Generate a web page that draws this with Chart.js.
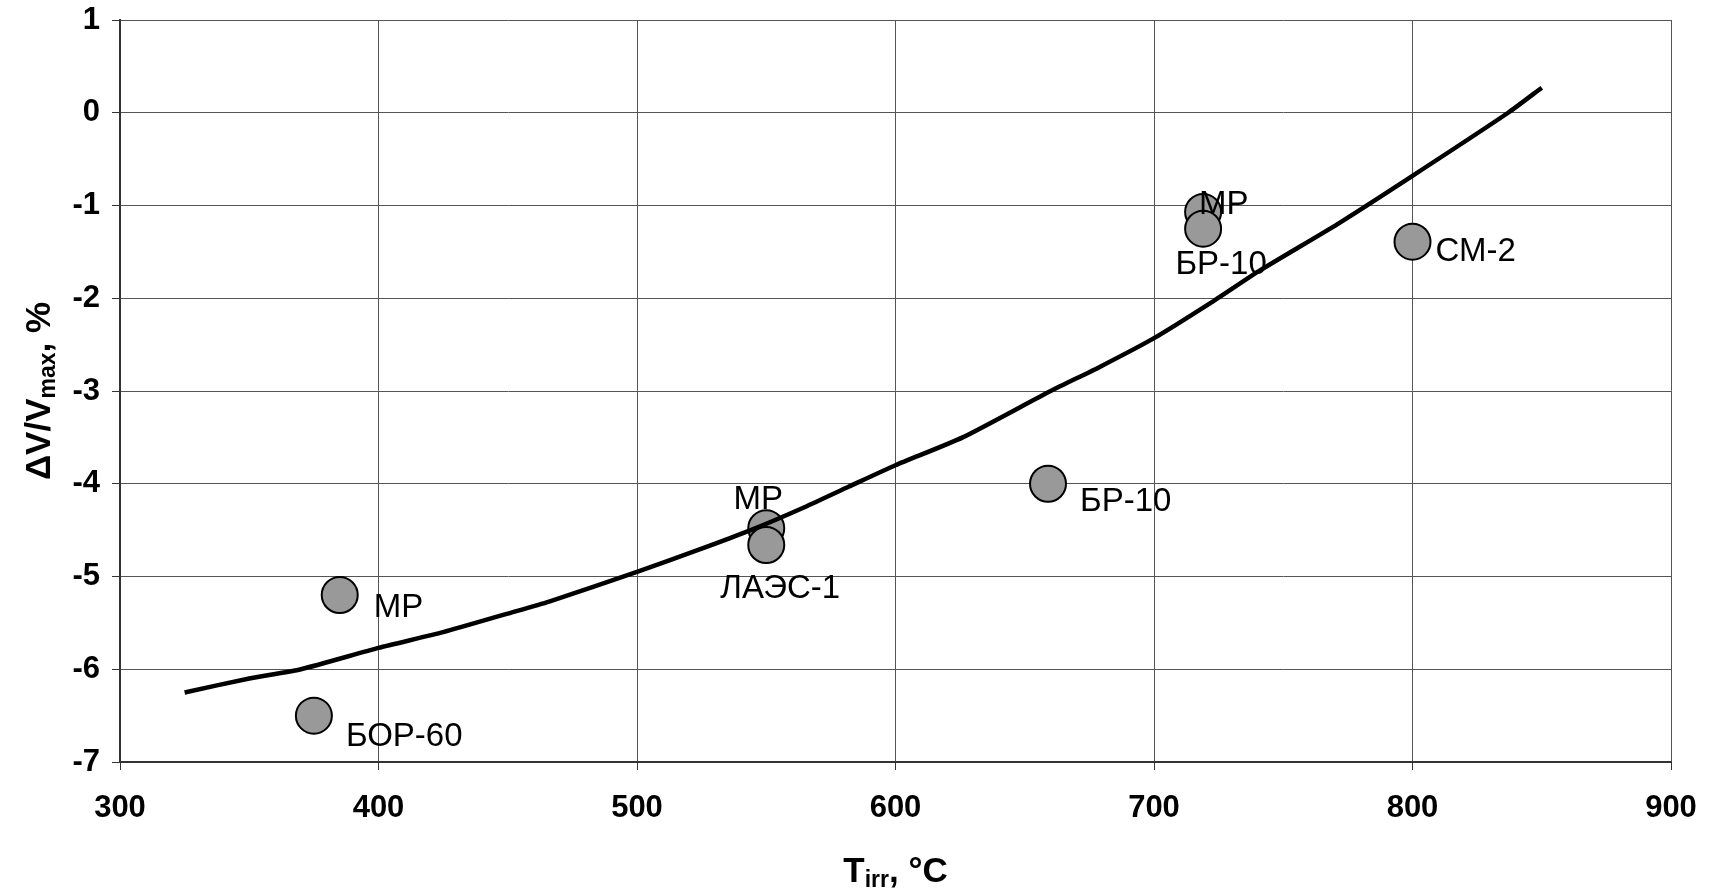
<!DOCTYPE html>
<html lang="ru">
<head>
<meta charset="UTF-8">
<script src="https://cdn.jsdelivr.net/npm/chart.js"></script>
<title>dV/Vmax vs Tirr</title>
<style>
  html, body { margin: 0; padding: 0; background: #fff; }
  #wrap { width: 1715px; height: 891px; }
</style>
</head>
<body>
<div id="wrap"><canvas id="swelling"></canvas></div>
<script>
// experimental points (irradiation temperature, degC / dV/Vmax, %)
const pointTemps  = [385, 375, 550, 550, 659, 719, 719, 800];
const pointValues = [-5.2, -6.5, -4.48, -4.66, -4.0, -1.07, -1.25, -1.39];
const pointLabels = ['МР', 'БОР-60', 'МР', 'ЛАЭС-1', 'БР-10', 'МР', 'БР-10', 'СМ-2'];

// fitted curve
const curveTemps  = [325, 350, 370, 400, 425, 450, 466, 500, 525, 544, 565, 582, 600, 626, 660, 679, 700, 723, 741, 771, 800, 837, 850];
const curveValues = [-6.25, -6.1, -6.0, -5.77, -5.6, -5.4, -5.27, -4.95, -4.7, -4.5, -4.25, -4.03, -3.8, -3.5, -3.0, -2.74, -2.43, -2.03, -1.7, -1.2, -0.68, 0.0, 0.27];

// axis ticks
const xTicks = [300, 400, 500, 600, 700, 800, 900];
const yTicks = [-7, -6, -5, -4, -3, -2, -1, 0, 1];

// where each label sits relative to its marker: dx, dy (px), alignment
const labelPlacement = [
  [34, 13, 'left'], [32, 21, 'left'], [-8, -28, 'center'], [14, 44, 'center'],
  [32, 18, 'left'], [-4, -7, 'left'], [18, 36, 'center'], [23, 10, 'left']
];

const FONT = '"Liberation Sans", Arial, sans-serif';

const pointLabelPlugin = {
  id: 'pointLabels',
  afterDatasetsDraw(chart) {
    const meta = chart.getDatasetMeta(1);
    const ctx = chart.ctx;
    ctx.save();
    ctx.font = '33px ' + FONT;
    ctx.fillStyle = '#000';
    ctx.textBaseline = 'middle';
    meta.data.forEach((pt, i) => {
      const p = labelPlacement[i];
      ctx.textAlign = p[2];
      ctx.fillText(pointLabels[i], pt.x + p[0], pt.y + p[1]);
    });
    ctx.restore();
  }
};

// draws text pieces with subscripts, centred on (0,0) of current transform
function drawParts(ctx, parts) {
  const big = 'bold 35px ' + FONT, small = 'bold 23px ' + FONT;
  let total = 0;
  parts.forEach(p => { ctx.font = p[1] ? small : big; total += ctx.measureText(p[0]).width; });
  let x = -total / 2;
  ctx.textAlign = 'left';
  ctx.textBaseline = 'middle';
  parts.forEach(p => {
    ctx.font = p[1] ? small : big;
    ctx.fillText(p[0], x, p[1] ? 9 : 0);
    x += ctx.measureText(p[0]).width;
  });
}

const axisTitlePlugin = {
  id: 'axisTitles',
  afterDraw(chart) {
    const ctx = chart.ctx;
    const area = chart.chartArea;
    ctx.save();
    ctx.fillStyle = '#000';
    ctx.translate((area.left + area.right) / 2, 872);
    drawParts(ctx, [['T', false], ['irr', true], [', °C', false]]);
    ctx.restore();

    ctx.save();
    ctx.fillStyle = '#000';
    ctx.translate(40, (area.top + area.bottom) / 2);
    ctx.rotate(-Math.PI / 2);
    drawParts(ctx, [['ΔV/V', false], ['max', true], [', %', false]]);
    ctx.restore();
  }
};

const ctx = document.getElementById('swelling').getContext('2d');
new Chart(ctx, {
  type: 'scatter',
  data: {
    datasets: [
      {
        label: 'fit',
        data: curveTemps.map((t, i) => ({ x: t, y: curveValues[i] })),
        showLine: true,
        borderColor: '#000',
        borderWidth: 4.5,
        pointRadius: 0,
        tension: 0.2,
        fill: false
      },
      {
        label: 'points',
        data: pointTemps.map((t, i) => ({ x: t, y: pointValues[i] })),
        backgroundColor: '#999999',
        borderColor: '#000',
        borderWidth: 2,
        pointRadius: 18,
        pointHoverRadius: 18
      }
    ]
  },
  options: {
    responsive: true,
    maintainAspectRatio: false,
    animation: false,
    events: [],
    layout: { padding: { top: 19, right: 44, left: 0, bottom: 0 } },
    plugins: {
      legend: { display: false },
      tooltip: { enabled: false }
    },
    scales: {
      x: {
        type: 'linear',
        min: xTicks[0],
        max: xTicks[xTicks.length - 1],
        afterFit(s) { s.height = 129; s.paddingLeft = 0; s.paddingRight = 0; },
        afterBuildTicks(s) { s.ticks = xTicks.map(v => ({ value: v })); },
        ticks: {
          color: '#000',
          font: { family: FONT, size: 31, weight: 'bold' },
          padding: 20,
          maxRotation: 0
        },
        grid: { color: '#555', lineWidth: 1, tickLength: 8, tickColor: '#333' },
        border: { color: '#333', width: 2 }
      },
      y: {
        type: 'linear',
        min: yTicks[0],
        max: yTicks[yTicks.length - 1],
        afterFit(s) { s.width = 120; s.paddingTop = 0; s.paddingBottom = 0; },
        afterBuildTicks(s) { s.ticks = yTicks.map(v => ({ value: v })); },
        ticks: {
          color: '#000',
          font: { family: FONT, size: 31, weight: 'bold' },
          padding: 12
        },
        grid: { color: '#555', lineWidth: 1, tickLength: 8, tickColor: '#333' },
        border: { color: '#333', width: 2 }
      }
    }
  },
  plugins: [pointLabelPlugin, axisTitlePlugin]
});
</script>
</body>
</html>
